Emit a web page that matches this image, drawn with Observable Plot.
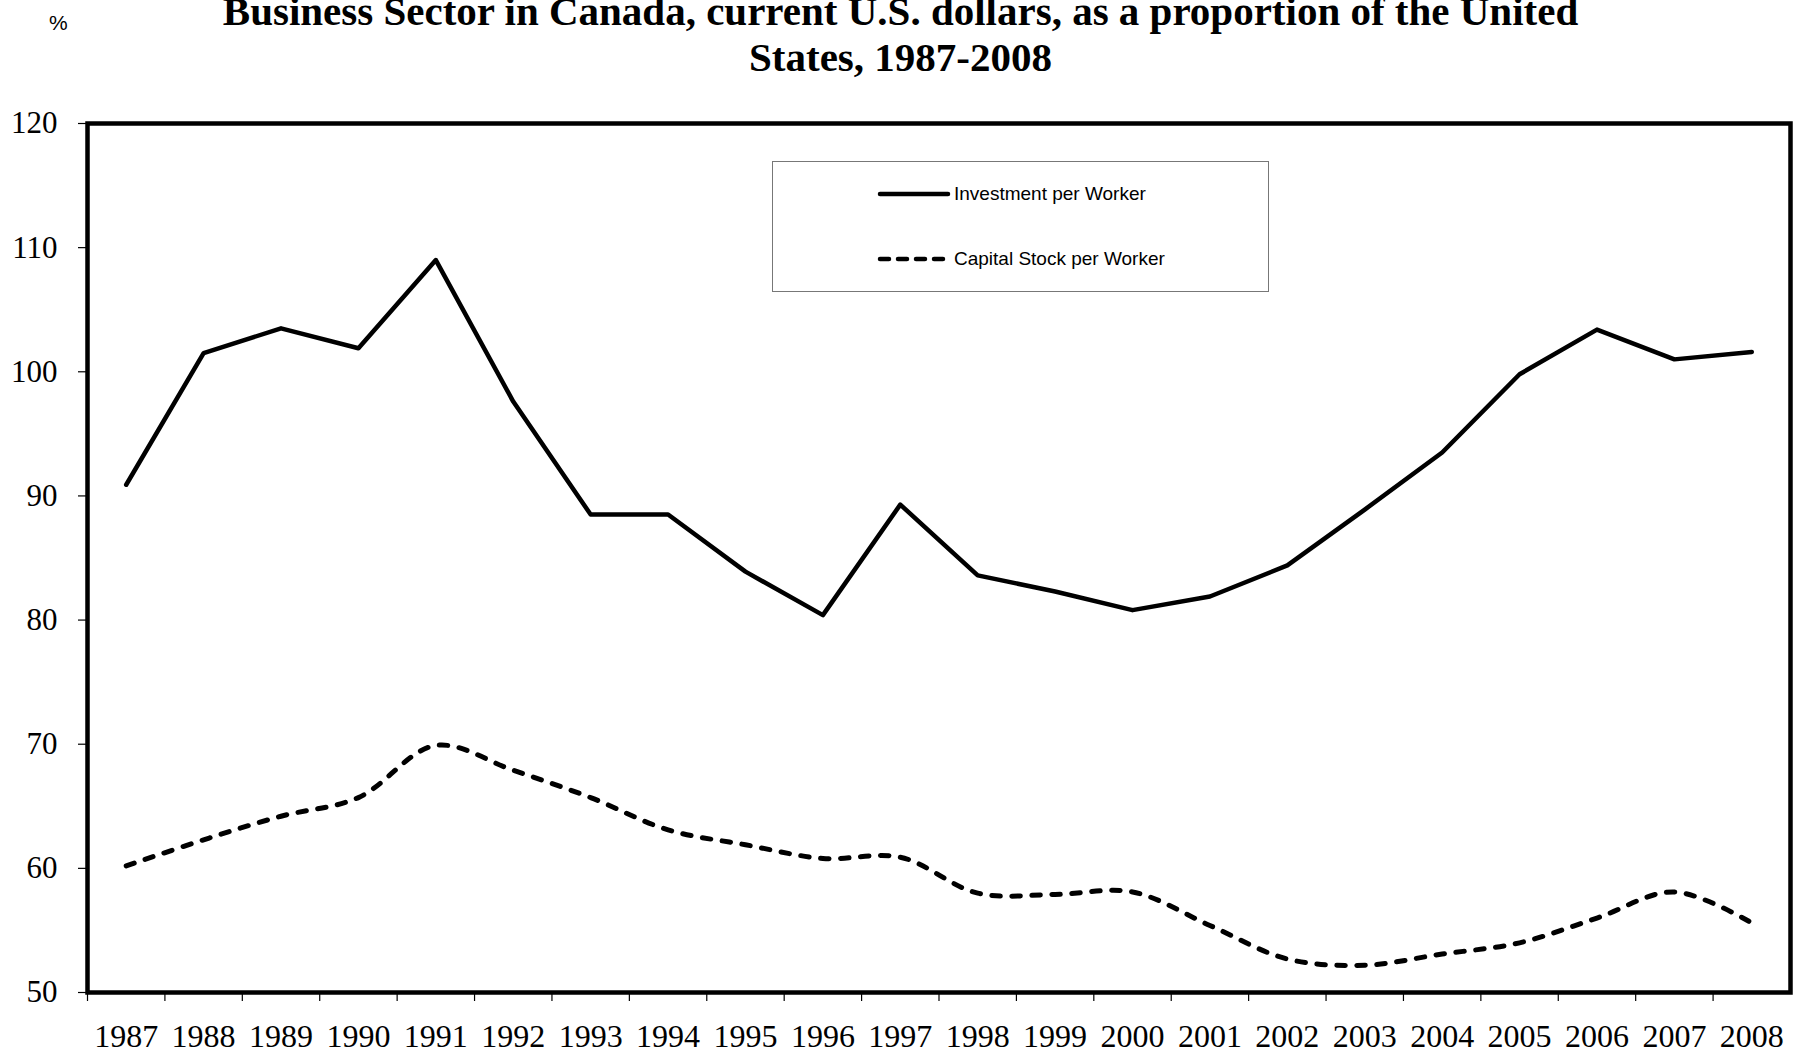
<!DOCTYPE html>
<html>
<head>
<meta charset="utf-8">
<script src="https://cdn.jsdelivr.net/npm/d3@7"></script>
<script src="https://cdn.jsdelivr.net/npm/@observablehq/plot@0.6"></script>
<style>
  body { margin: 0; background: #fff; }
  #wrap { position: relative; width: 1801px; height: 1055px; overflow: hidden; background: #fff; }
  #title { position: absolute; left: 0; top: -12px; width: 1801px; text-align: center;
           font-family: "Liberation Serif", "Times New Roman", serif; font-weight: bold;
           font-size: 41px; line-height: 46px; color: #000; }
  #pct { position: absolute; left: 49px; top: 11px; font-family: "Liberation Sans", Arial, sans-serif;
         font-size: 21px; color: #000; }
  #legend { position: absolute; left: 772px; top: 161px; width: 495px; height: 129px;
            border: 1px solid #777; background: #fff; }
  .row { position: absolute; left: 104px; height: 24px; display: flex; align-items: center;
         font-family: "Liberation Sans", Arial, sans-serif; font-size: 19px; color: #000; }
  .row svg { margin-right: 3px; }
  #chart { position: absolute; left: 0; top: 0; }
</style>
</head>
<body>
<div id="wrap">
  <div id="chart"></div>
  <div id="title">Business Sector in Canada, current U.S. dollars, as a proportion of the United<br>States, 1987-2008</div>
  <div id="pct">%</div>
  <div id="legend"></div>
</div>
<script>
// ---- Data ----
const years = [1987, 1988, 1989, 1990, 1991, 1992, 1993, 1994, 1995, 1996, 1997,
               1998, 1999, 2000, 2001, 2002, 2003, 2004, 2005, 2006, 2007, 2008];
const investmentPerWorker = [90.9, 101.5, 103.5, 101.9, 109.0, 97.6, 88.5, 88.5, 83.9, 80.4, 89.3,
                             83.6, 82.3, 80.8, 81.9, 84.4, 88.9, 93.5, 99.8, 103.4, 101.0, 101.6];
const capitalStockPerWorker = [60.2, 62.3, 64.2, 65.7, 69.9, 67.9, 65.7, 63.1, 61.9, 60.8, 60.9,
                               58.0, 57.9, 58.1, 55.4, 52.7, 52.2, 53.1, 54.0, 56.0, 58.1, 55.6];
const yTicks = [50, 60, 70, 80, 90, 100, 110, 120];
const seriesNames = ["Investment per Worker", "Capital Stock per Worker"];

const invRows = years.map((year, i) => ({year, value: investmentPerWorker[i]}));
const capRows = years.map((year, i) => ({year, value: capitalStockPerWorker[i]}));
const boundaries = years.map(y => y - 0.5);

const serif = "Liberation Serif, Times New Roman, serif";

const chart = Plot.plot({
  width: 1801,
  height: 1055,
  marginLeft: 87,
  marginRight: 11,
  marginTop: 123,
  marginBottom: 63,
  style: {fontFamily: serif, background: "transparent", color: "#000"},
  x: {type: "linear", domain: [years[0] - 0.5, years[years.length - 1] + 0.5]},
  y: {domain: [50, 120]},
  marks: [
    Plot.axisY({ticks: yTicks, tickSize: 9, tickPadding: 21, fontSize: 31, fontFamily: serif,
                tickFormat: d => String(d), label: null, stroke: "#000", strokeWidth: 1.2}),
    Plot.axisX({ticks: boundaries, tickSize: 9, tickFormat: () => "", label: null,
                stroke: "#000", strokeWidth: 1.2}),
    Plot.axisX({ticks: years, tickSize: 0, tickPadding: 32, fontSize: 32, fontFamily: serif,
                tickFormat: d => String(d), label: null}),
    Plot.line(invRows, {x: "year", y: "value", stroke: "#000", strokeWidth: 4.5,
                        strokeLinejoin: "round", strokeLinecap: "round"}),
    Plot.line(capRows, {x: "year", y: "value", stroke: "#000", strokeWidth: 5,
                        curve: "catmull-rom", strokeDasharray: "8.5,11.5",
                        strokeLinecap: "round", strokeLinejoin: "round"}),
    Plot.frame({stroke: "#000", strokeWidth: 4.5})
  ]
});
document.getElementById("chart").appendChild(chart);

// ---- Legend ----
const legend = document.getElementById("legend");
const styles = [
  {dash: null, top: 20},
  {dash: "8.5,11.5", top: 85}
];
seriesNames.forEach((name, i) => {
  const row = document.createElement("div");
  row.className = "row";
  row.style.top = styles[i].top + "px";
  const ns = "http://www.w3.org/2000/svg";
  const svg = document.createElementNS(ns, "svg");
  svg.setAttribute("width", 74);
  svg.setAttribute("height", 24);
  const line = document.createElementNS(ns, "line");
  line.setAttribute("x1", 3); line.setAttribute("x2", 71);
  line.setAttribute("y1", 12); line.setAttribute("y2", 12);
  line.setAttribute("stroke", "#000");
  line.setAttribute("stroke-width", 4.5);
  line.setAttribute("stroke-linecap", "round");
  if (styles[i].dash) line.setAttribute("stroke-dasharray", "9,9");
  svg.appendChild(line);
  row.appendChild(svg);
  const span = document.createElement("span");
  span.textContent = name;
  row.appendChild(span);
  legend.appendChild(row);
});
</script>
</body>
</html>
